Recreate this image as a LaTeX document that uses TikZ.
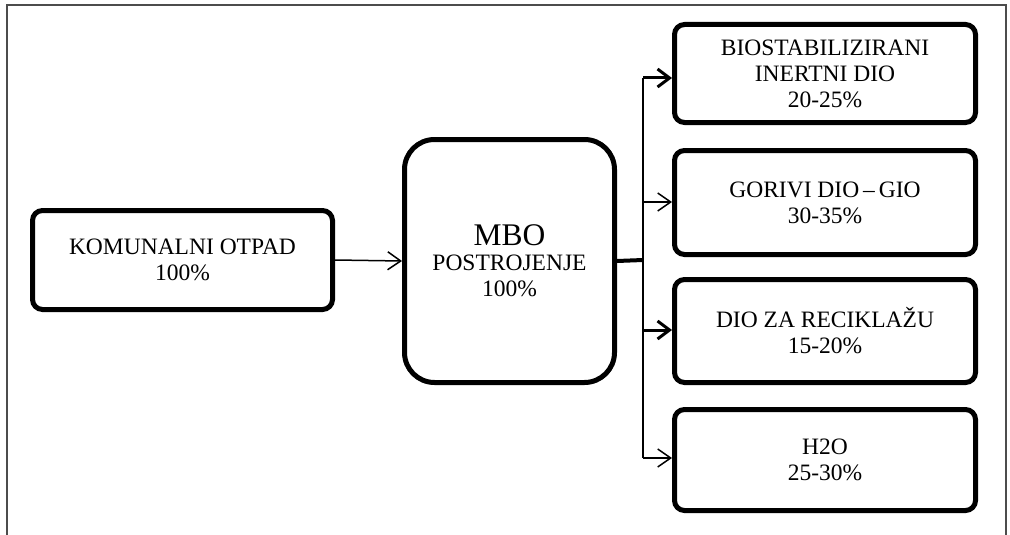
\documentclass[tikz,border=0pt]{standalone}
\usepackage{fontspec}
\setmainfont{Liberation Serif}
\usetikzlibrary{arrows.meta}
\begin{document}
\begin{tikzpicture}[x=1pt,y=-1pt,
  frame/.style={draw=black!70, line width=2pt},
  box/.style={draw, line width=5pt, rounded corners=10pt, align=center,
    font=\fontsize{23.5}{26}\selectfont, inner sep=0pt},
  bigbox/.style={box, rounded corners=30pt},
  thinarrow/.style={line width=1.5pt, -{Straight Barb[length=13pt,width=18pt]}},
  thickarrow/.style={line width=3pt, -{Straight Barb[length=12pt,width=18pt]}},
  busline/.style={line width=1.5pt},
  thickline/.style={line width=4pt}]
\useasboundingbox (0,0) rectangle (1010,535);
\draw[frame] (7,540) -- (7,5) -- (1006,5) -- (1006,540);

\node[box, minimum width=300pt, minimum height=99pt] (kom) at (182.5,260)
  {KOMUNALNI OTPAD\\100\%};
\node[bigbox, minimum width=210pt, minimum height=243pt] (mbo) at (509.5,261)
  {{\fontsize{31.5}{34}\selectfont MBO}\\[-1pt]POSTROJENJE\\100\%};
\node[box, minimum width=301pt, minimum height=98pt] (b1) at (825,73.5)
  {BIOSTABILIZIRANI\\INERTNI DIO\\20-25\%};
\node[box, minimum width=301pt, minimum height=104pt] (b2) at (825,202.5)
  {GORIVI DIO\,–\,GIO\\30-35\%};
\node[box, minimum width=301pt, minimum height=103pt] (b3) at (825,331)
  {DIO ZA RECIKLAŽU\\15-20\%};
\node[box, minimum width=301pt, minimum height=101pt] (b4) at (825,460)
  {H2O\\25-30\%};

\coordinate (bus) at (643,260);
\coordinate (bt) at (643,78);
\coordinate (b2y) at (643,202);
\coordinate (b3y) at (643,330);
\coordinate (bb) at (643,458);

\draw[thinarrow] (kom.east) -- (mbo.west);
\draw[thickline] (mbo.east) -- (bus);
\draw[busline] (bt) -- (bb);
\draw[thickarrow] (bt) -- (bt -| b1.west);
\draw[thinarrow] (b2y) -- (b2y -| b2.west);
\draw[thickarrow] (b3y) -- (b3y -| b3.west);
\draw[thinarrow] (bb) -- (bb -| b4.west);
\end{tikzpicture}
\end{document}
